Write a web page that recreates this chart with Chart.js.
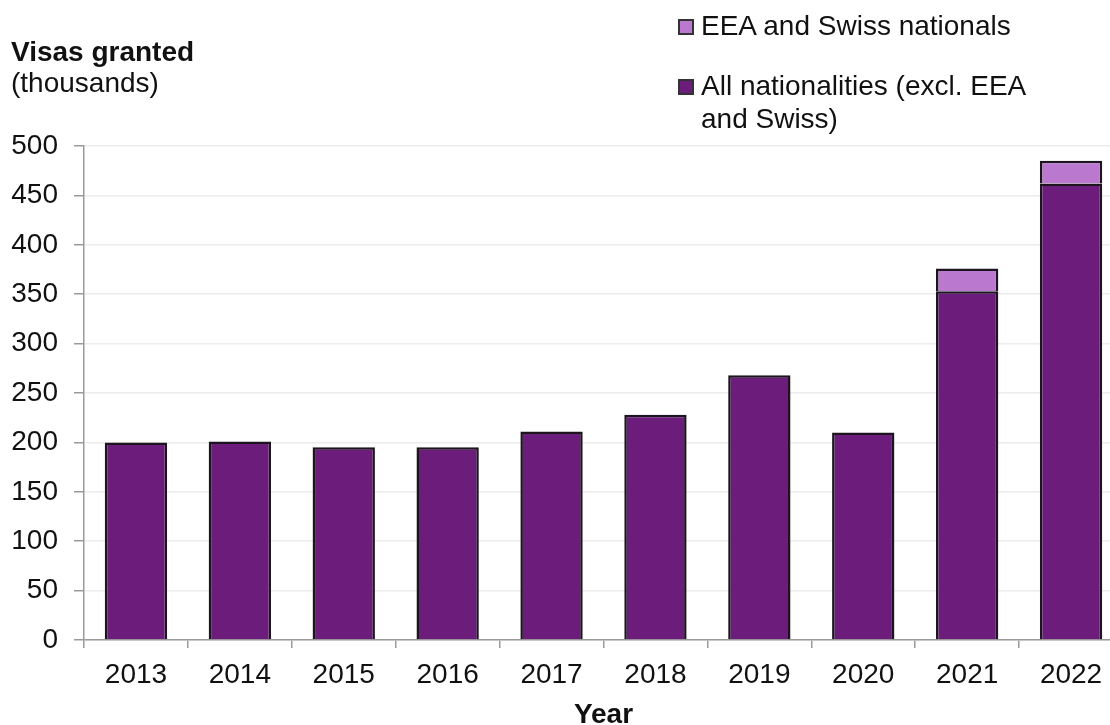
<!DOCTYPE html>
<html lang="en">
<head>
<meta charset="UTF-8">
<title>Visas granted</title>
<script src="https://cdn.jsdelivr.net/npm/chart.js"></script>
<style>
  body { margin: 0; background: #fff; overflow: hidden; font-family: 'Liberation Sans', Arial, sans-serif; color: #111; }
  .wrap { position: relative; width: 1125px; height: 725px; }
  .ytitle { position: absolute; left: 11px; top: 36px; font-size: 28px; line-height: 31px; }
  .ytitle b { display: block; }
  .legend { position: absolute; left: 678px; top: 9px; font-size: 28px; line-height: 33px; }
  .item { position: relative; padding-left: 23px; }
  .item + .item { margin-top: 27px; }
  .swatch { position: absolute; left: 0; top: 10px; width: 16px; height: 16px; border: 2px solid #333; box-sizing: border-box; }
</style>
</head>
<body>
<div class="wrap">
  <canvas id="visasChart" width="1125" height="725"></canvas>
  <div class="ytitle"><b>Visas granted</b>(thousands)</div>
  <div class="legend">
    <div class="item"><span class="swatch" style="background:#ba79ce"></span>EEA and Swiss nationals</div>
    <div class="item"><span class="swatch" style="background:#6c1d7c"></span>All nationalities (excl. EEA<br>and Swiss)</div>
  </div>
</div>
<script>
  // visas granted per year, thousands
  const years = ['2013', '2014', '2015', '2016', '2017', '2018', '2019', '2020', '2021', '2022'];
  const allNationalities = [200, 201, 195, 195, 211, 228, 268, 210, 353, 462];
  const eeaSwiss = [null, null, null, null, null, null, null, null, 23, 23];
  const yTicks = [0, 50, 100, 150, 200, 250, 300, 350, 400, 450, 500];

  Chart.defaults.font.family = "'Liberation Sans', Arial, sans-serif";

  const barStyle = {
    barPercentage: 0.6,
    categoryPercentage: 1,
    borderWidth: 2.5,
    borderColor: '#1c141e'
  };

  new Chart(document.getElementById('visasChart').getContext('2d'), {
    type: 'bar',
    data: {
      labels: years,
      datasets: [
        Object.assign({ label: 'All nationalities (excl. EEA and Swiss)', data: allNationalities, backgroundColor: '#6c1d7c' }, barStyle),
        Object.assign({ label: 'EEA and Swiss nationals', data: eeaSwiss, backgroundColor: '#ba79ce' }, barStyle)
      ]
    },
    options: {
      responsive: false,
      animation: false,
      layout: { padding: { top: 146, right: 2, bottom: 0, left: 0 } },
      plugins: { legend: { display: false }, tooltip: { enabled: false } },
      scales: {
        x: {
          stacked: true,
          grid: { offset: true, drawOnChartArea: false, tickLength: 8, tickColor: '#9a9a9a', lineWidth: 1.5 },
          border: { color: '#9a9a9a', width: 1.5 },
          ticks: { color: '#111', font: { size: 28 }, padding: 10, maxRotation: 0 },
          title: { display: true, text: 'Year', color: '#111', font: { size: 28, weight: 'bold', lineHeight: 0.7 }, padding: 0 },
          afterFit: s => { s.height = 85; }
        },
        y: {
          stacked: true,
          min: 0,
          max: 500,
          afterBuildTicks: s => { s.ticks = yTicks.map(v => ({ value: v })); },
          ticks: { color: '#111', font: { size: 28 }, padding: 16 },
          grid: { color: '#ececec', tickColor: '#9a9a9a', tickLength: 10, lineWidth: 1.5 },
          border: { color: '#9a9a9a', width: 1.5 },
          afterFit: s => { s.width = 84; }
        }
      }
    }
  });
</script>
</body>
</html>
